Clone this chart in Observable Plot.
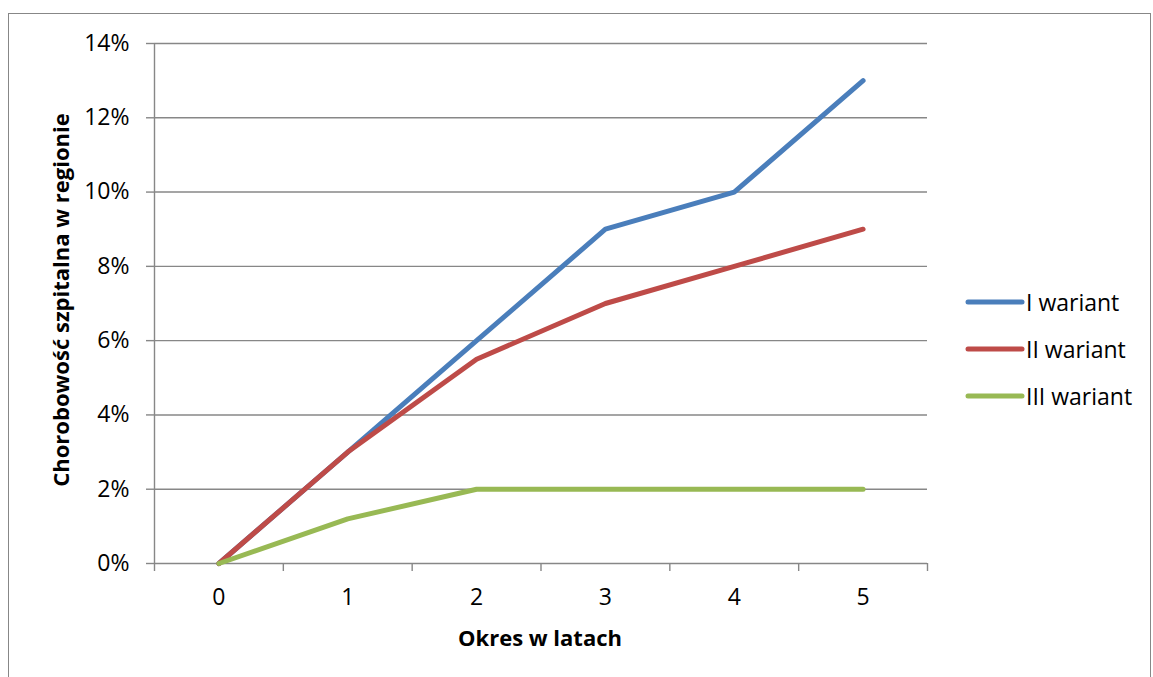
<!DOCTYPE html>
<html>
<head>
<meta charset="utf-8">
<script src="https://cdn.jsdelivr.net/npm/d3@7"></script>
<script src="https://cdn.jsdelivr.net/npm/@observablehq/plot@0.6"></script>
<style>
  html, body { margin: 0; padding: 0; background: #fff; }
  #wrap { position: relative; width: 1153px; height: 677px; overflow: hidden; font-family: "Open Sans", sans-serif; }
  #border { position: absolute; left: 8px; top: 13px; width: 1143px; height: 700px; border: 1.5px solid #878787; box-sizing: border-box; }
  #chart { position: absolute; left: 0; top: 0; }
  .title { position: absolute; font-weight: bold; font-size: 22px; color: #000; white-space: nowrap; }
  #xtitle { left: 540px; top: 637px; transform: translate(-50%, -50%); }
  #ytitle { left: 60px; top: 300px; transform: translate(-50%, -50%) rotate(-90deg); }
  #legend { position: absolute; left: 965px; top: 278px; }
  .item { display: flex; align-items: center; height: 47px; font-size: 23px; color: #000; }
  .item svg { margin-right: 1px; }
</style>
</head>
<body>
<div id="wrap">
  <div id="border"></div>
  <div id="chart"></div>
  <div class="title" id="xtitle"></div>
  <div class="title" id="ytitle"></div>
  <div id="legend"></div>
</div>
<script>
const years = [0, 1, 2, 3, 4, 5];
const wariantI = [0, 0.03, 0.06, 0.09, 0.10, 0.13];
const wariantII = [0, 0.03, 0.055, 0.07, 0.08, 0.09];
const wariantIII = [0, 0.012, 0.02, 0.02, 0.02, 0.02];
const seriesNames = ["I wariant", "II wariant", "III wariant"];
const seriesColors = ["#4a7ebb", "#be4b48", "#98b954"];
const yTicks = [0, 0.02, 0.04, 0.06, 0.08, 0.10, 0.12, 0.14];
const xTitle = "Okres w latach";
const yTitle = "Chorobowość szpitalna w regionie";

const seriesValues = [wariantI, wariantII, wariantIII];
const data = seriesNames.flatMap((name, i) =>
  years.map((year, j) => ({series: name, year, value: seriesValues[i][j]}))
);
const xBoundaries = years.map(d => d - 0.5).concat([years[years.length - 1] + 0.5]);

const gridColor = "#878787";

const chart = Plot.plot({
  width: 1153,
  height: 677,
  marginLeft: 154,
  marginRight: 226,
  marginTop: 43,
  marginBottom: 114,
  style: {fontFamily: "Open Sans, sans-serif", fontSize: "23px", color: "#000", background: "transparent", overflow: "visible"},
  x: {domain: [xBoundaries[0], xBoundaries[xBoundaries.length - 1]]},
  y: {domain: [0, 0.14]},
  color: {domain: seriesNames, range: seriesColors},
  marks: [
    Plot.ruleY(yTicks, {stroke: gridColor, strokeWidth: 1.4}),
    Plot.ruleX([xBoundaries[0]], {stroke: gridColor, strokeWidth: 1.4}),
    Plot.axisY({ticks: yTicks, tickFormat: d3.format(".0%"), tickSize: 8, tickPadding: 17, stroke: gridColor, strokeWidth: 1.4, label: null}),
    Plot.axisX({ticks: xBoundaries, tickFormat: () => "", tickSize: 8, stroke: gridColor, strokeWidth: 1.4, label: null}),
    Plot.axisX({ticks: years, tickFormat: d3.format("d"), tickSize: 0, tickPadding: 25, label: null}),
    Plot.line(data, {x: "year", y: "value", z: "series", stroke: "series", strokeWidth: 5, strokeLinecap: "round", strokeLinejoin: "round"})
  ]
});
document.getElementById("chart").appendChild(chart);
document.getElementById("xtitle").textContent = xTitle;
document.getElementById("ytitle").textContent = yTitle;

const legend = document.getElementById("legend");
seriesNames.forEach((name, i) => {
  const item = document.createElement("div");
  item.className = "item";
  item.innerHTML = `<svg width="60" height="10"><line x1="3" y1="5" x2="57" y2="5" stroke="${seriesColors[i]}" stroke-width="5" stroke-linecap="round"/></svg><span>${name}</span>`;
  legend.appendChild(item);
});
</script>
</body>
</html>
